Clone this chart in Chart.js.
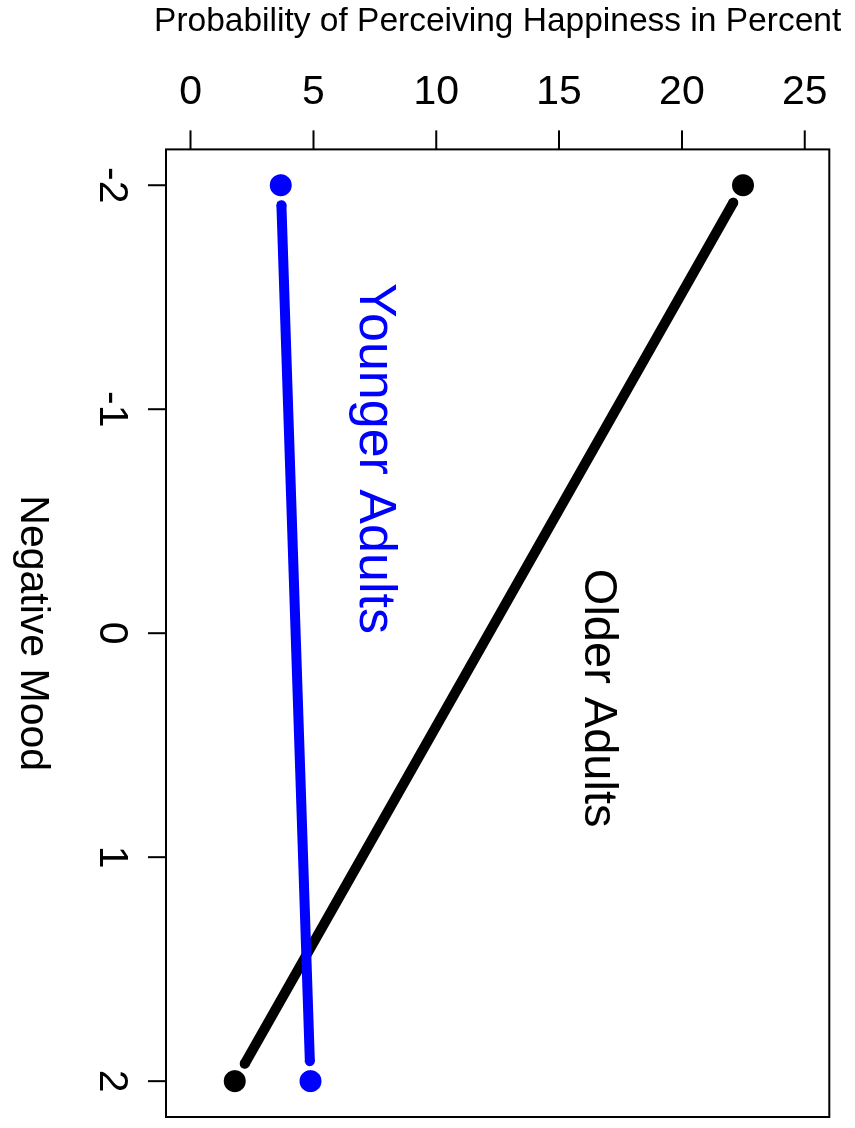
<!DOCTYPE html>
<html>
<head>
<meta charset="utf-8">
<script src="https://cdn.jsdelivr.net/npm/chart.js@4.4.0/dist/chart.umd.min.js"></script>
<style>
  html, body { margin: 0; padding: 0; background: #fff; overflow: hidden; }
  #wrap {
    position: absolute; left: 0; top: 0;
    width: 1128px; height: 855px;
    transform-origin: 0 0;
    transform: translate(855px, 0) rotate(90deg);
  }
</style>
</head>
<body>
<div id="wrap"><canvas id="moodChart" width="1128" height="855"></canvas></div>
<script>
    // data
    const moodValues = [-2, 2];
    const youngerPct = [3.67, 4.88];
    const olderPct = [22.49, 1.80];
    const moodTicks = [-2, -1, 0, 1, 2];
    const pctTicks = [0, 5, 10, 15, 20, 25];
    const groupNames = ['Younger Adults', 'Older Adults'];
    const groupColors = ['#0000ff', '#000000'];
    const labelMood = [-0.78, 0.29];
    const labelPct = [7.5, 16.6];
    const labelSizes = [52, 47];

    const FONT = '"Liberation Sans", Arial, sans-serif';

    function toPoints(vals) {
      return moodValues.map((m, i) => ({ x: m, y: vals[i] }));
    }

    // R type="b" look: gap between the line and each point
    const gapPlugin = {
      id: 'gap',
      afterDatasetDraw(chart, args) {
        const ds = chart.data.datasets[args.index];
        if (!ds.isLine) return;
        const c = chart.ctx;
        const pts = args.meta.data;
        const g = 20, r = ds.borderWidth / 2;
        c.save();
        for (let i = 0; i < pts.length; i++) {
          const p = pts[i], q = pts[i === 0 ? 1 : 0];
          const dx = q.x - p.x, dy = q.y - p.y;
          const len = Math.hypot(dx, dy);
          c.fillStyle = '#fff';
          c.beginPath(); c.arc(p.x, p.y, g, 0, Math.PI * 2); c.fill();
          c.fillStyle = ds.borderColor;
          c.beginPath(); c.arc(p.x + dx / len * g, p.y + dy / len * g, r, 0, Math.PI * 2); c.fill();
        }
        c.restore();
      }
    };

    // R style box, ticks and labels
    const axesPlugin = {
      id: 'rAxes',
      afterDraw(chart) {
        const c = chart.ctx;
        const a = chart.chartArea;
        const xs = chart.scales.x, ys = chart.scales.y;
        c.save();
        c.strokeStyle = '#000';
        c.lineWidth = 2;
        c.strokeRect(a.left, a.top, a.right - a.left, a.bottom - a.top);

        c.beginPath();
        moodTicks.forEach(t => {
          const px = xs.getPixelForValue(t);
          c.moveTo(px, a.bottom); c.lineTo(px, a.bottom + 18);
        });
        pctTicks.forEach(t => {
          const py = ys.getPixelForValue(t);
          c.moveTo(a.left, py); c.lineTo(a.left - 19, py);
        });
        c.stroke();

        c.fillStyle = '#000';
        c.textAlign = 'center';
        c.textBaseline = 'middle';
        c.font = '41px ' + FONT;
        moodTicks.forEach(t => {
          c.fillText(String(t), xs.getPixelForValue(t), 744);
        });
        pctTicks.forEach(t => {
          c.save();
          c.translate(93, ys.getPixelForValue(t));
          c.rotate(-Math.PI / 2);
          c.fillText(String(t), 0, 0);
          c.restore();
        });

        c.fillText('Negative Mood', (a.left + a.right) / 2, 823);
        c.save();
        c.font = '33.5px ' + FONT;
        c.translate(22, (a.top + a.bottom) / 2);
        c.rotate(-Math.PI / 2);
        c.fillText('Probability of Perceiving Happiness in Percent', 0, 0);
        c.restore();

        groupNames.forEach((name, i) => {
          c.font = labelSizes[i] + 'px ' + FONT;
          c.fillStyle = groupColors[i];
          c.fillText(name, xs.getPixelForValue(labelMood[i]), ys.getPixelForValue(labelPct[i]));
        });
        c.restore();
      }
    };

    const ctx = document.getElementById('moodChart').getContext('2d');
    const chart = new Chart(ctx, {
      type: 'line',
      data: {
        datasets: [
          { data: toPoints(youngerPct), isLine: true, borderColor: groupColors[0], borderWidth: 10,
            borderCapStyle: 'round', pointRadius: 0, order: 1 },
          { data: toPoints(olderPct), isLine: true, borderColor: groupColors[1], borderWidth: 10,
            borderCapStyle: 'round', pointRadius: 0, order: 1 },
          { data: toPoints(youngerPct), showLine: false, pointRadius: 11, pointBorderWidth: 0,
            pointBackgroundColor: groupColors[0], order: 0 },
          { data: toPoints(olderPct), showLine: false, pointRadius: 11, pointBorderWidth: 0,
            pointBackgroundColor: groupColors[1], order: 0 }
        ]
      },
      options: {
        responsive: false,
        animation: false,
        devicePixelRatio: 1,
        layout: { padding: { left: 149.4, right: 9.8, top: 25.7, bottom: 166 } },
        plugins: { legend: { display: false }, tooltip: { enabled: false } },
        scales: {
          x: { type: 'linear', min: -2.16, max: 2.16, display: false },
          y: { type: 'linear', min: -1, max: 26, display: false }
        }
      },
      plugins: [gapPlugin, axesPlugin]
    });
</script>
</body>
</html>
